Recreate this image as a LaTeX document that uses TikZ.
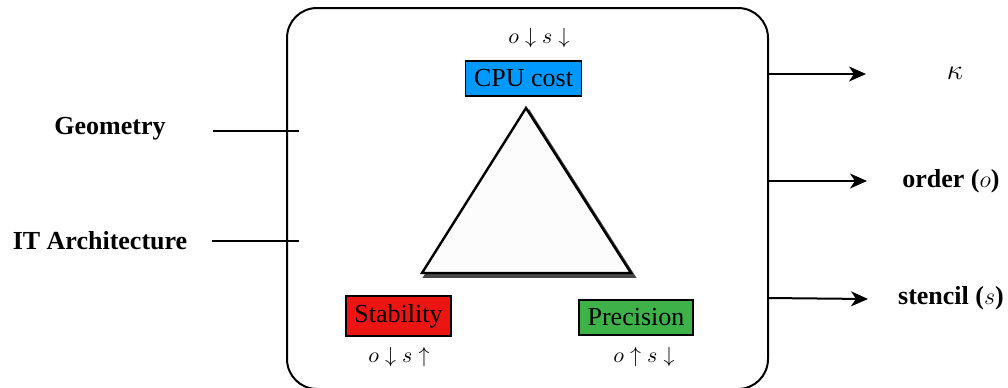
\documentclass[tikz,border=0pt]{standalone}
\usepackage{fontspec}
\setmainfont{Liberation Serif}
\usetikzlibrary{arrows.meta}
\definecolor{cpublue}{RGB}{0,153,255}
\definecolor{stabred}{RGB}{237,20,20}
\definecolor{precgreen}{RGB}{62,178,72}
\tikzset{
  px/.style={x=0.5pt,y=-0.5pt},
  colbox/.style={draw=black,line width=0.9pt,inner xsep=4.3pt,inner ysep=0pt,font=\fontsize{13}{15}\selectfont},
  mlabel/.style={inner sep=0pt,font=\fontsize{11}{13}\selectfont},
  sidetext/.style={inner sep=0pt,font=\fontsize{13}{15}\selectfont\bfseries},
  outtext/.style={inner sep=0pt,font=\fontsize{13}{15}\selectfont\bfseries},
  conn/.style={line width=1pt},
  outarrow/.style={line width=1pt,-{Stealth[length=8.5pt,width=7.5pt,inset=2.5pt]}}
}
\begin{document}
\begin{tikzpicture}[px]
\useasboundingbox (0,0) rectangle (1008,387);
% main rounded box
\draw[line width=1pt,rounded corners=15pt] (287,8) rectangle (768,389);
% triangle with shadow
\coordinate (ta) at (526,108);
\coordinate (tl) at (422,273);
\coordinate (tr) at (631,273);
\fill[black!72,draw=black!72,line width=1.4pt] ([shift={(3,3.5)}]ta) -- ([shift={(3,3.5)}]tl) -- ([shift={(3,3.5)}]tr) -- cycle;
\draw[fill=black!1,line width=1.2pt,line join=miter] (ta) -- (tl) -- (tr) -- cycle;
% coloured boxes
\node[colbox,fill=cpublue,minimum height=17.5pt] (cpu) at (523.5,78.5) {CPU cost};
\node[colbox,fill=stabred,minimum height=20pt] (stab) at (398.5,316) {Stability};
\node[colbox,fill=precgreen,minimum height=17.5pt] (prec) at (636,317.5) {Precision};
% math labels
\node[mlabel] (cpul) at (539,38) {$o\downarrow s\downarrow$};
\node[mlabel] (stabl) at (399,357) {$o\downarrow s\uparrow$};
\node[mlabel] (precl) at (644,357) {$o\uparrow s\downarrow$};
% left inputs
\node[sidetext] (geo) at (110,129) {Geometry};
\node[sidetext] (itarch) at (100,241) {IT Architecture};
\coordinate (geoS) at (213,131);
\coordinate (geoE) at (299,131);
\coordinate (itS) at (212,241);
\coordinate (itE) at (299,241);
\draw[conn] (geoS) -- (geoE);
\draw[conn] (itS) -- (itE);
% right outputs
\node[outtext,font=\fontsize{15}{17}\selectfont] (kappa) at (955,73) {$\kappa$};
\node[outtext] (order) at (951,181) {order ($o$)};
\node[outtext] (stencil) at (951,298) {stencil ($s$)};
\coordinate (a1) at (768,74);
\coordinate (a1e) at (866,74);
\coordinate (a2) at (768,181);
\coordinate (a2e) at (867,181);
\coordinate (a3) at (768,298);
\coordinate (a3e) at (868,299);
\draw[outarrow] (a1) -- (a1e);
\draw[outarrow] (a2) -- (a2e);
\draw[outarrow] (a3) -- (a3e);
\end{tikzpicture}
\end{document}
